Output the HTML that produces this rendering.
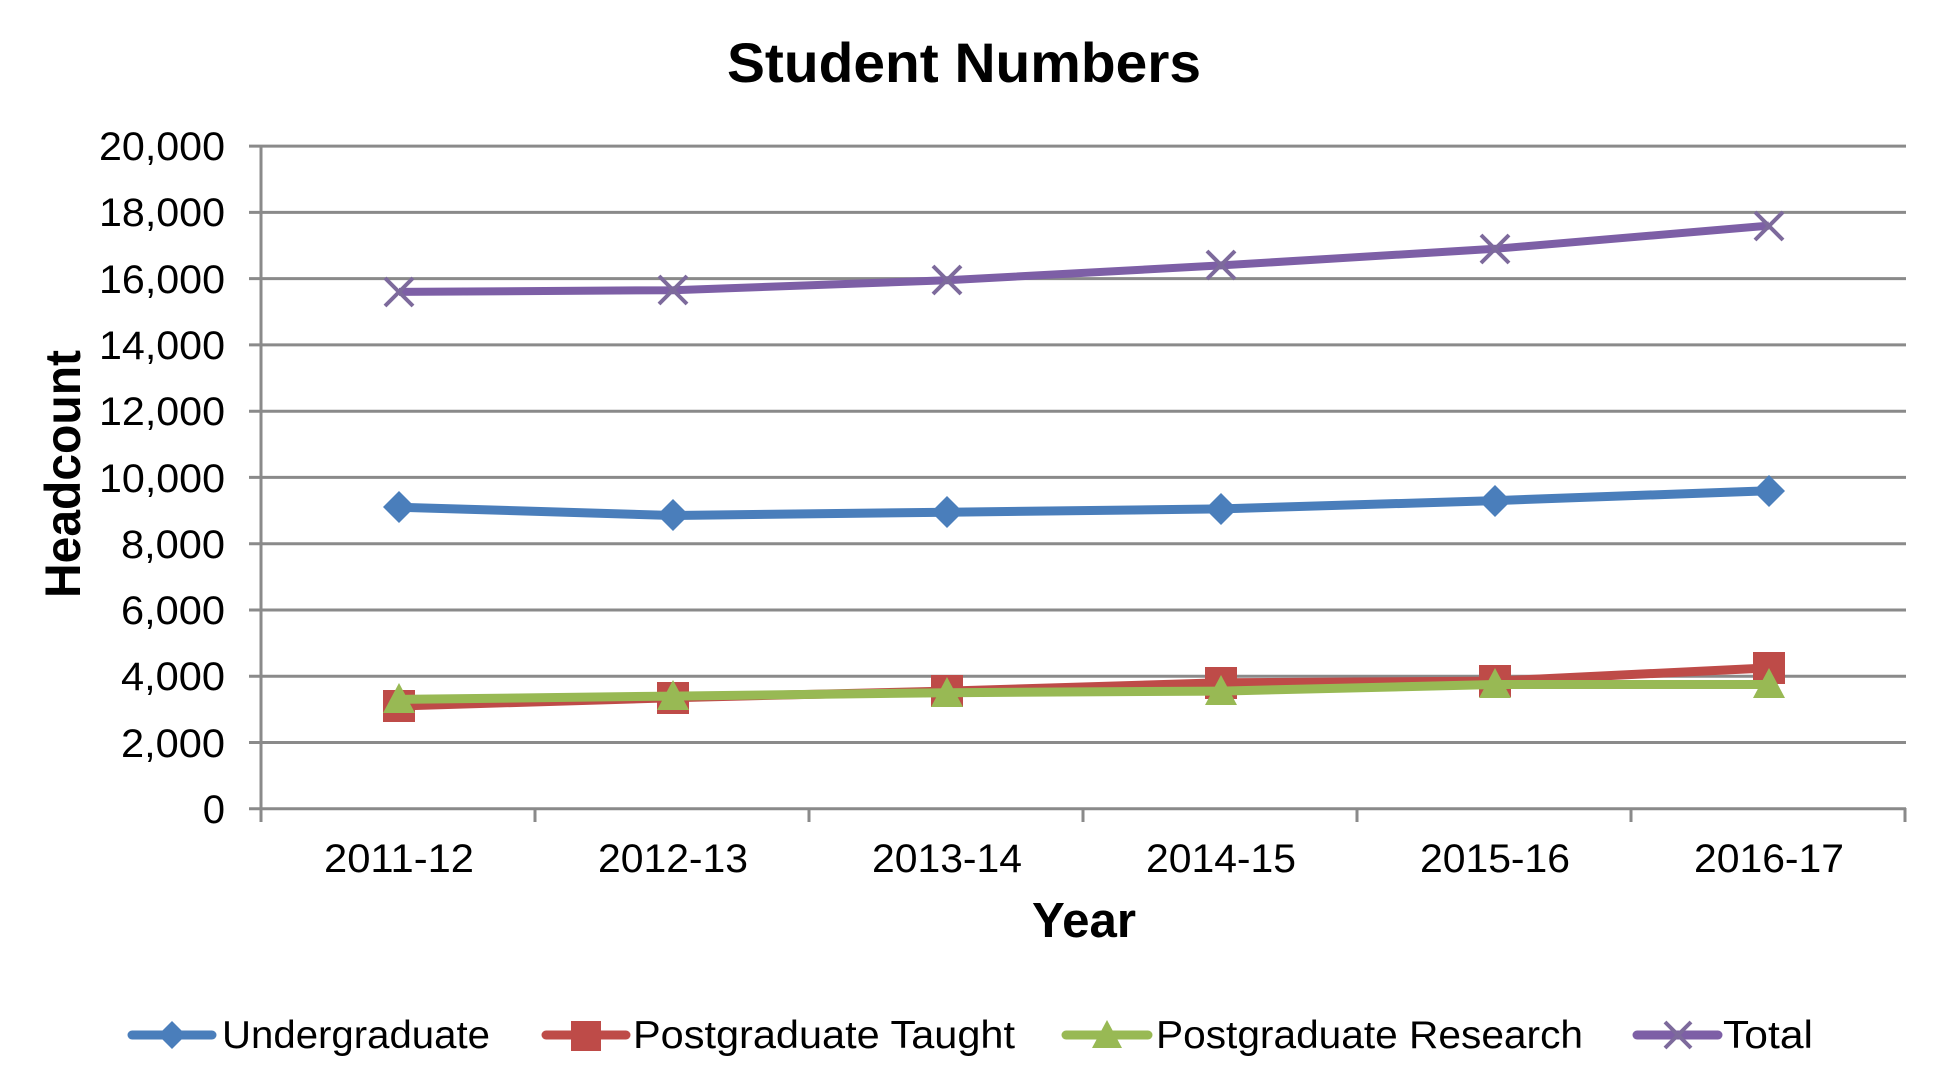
<!DOCTYPE html>
<html><head><meta charset="utf-8"><style>html,body{margin:0;padding:0;background:#fff}svg{display:block}</style></head>
<body>
<svg width="1934" height="1092" viewBox="0 0 1934 1092" xmlns="http://www.w3.org/2000/svg" font-family="Liberation Sans, Arial, sans-serif">
<rect width="1934" height="1092" fill="#fff"/>
<text x="727" y="82" font-size="56" font-weight="bold" textLength="474" lengthAdjust="spacingAndGlyphs">Student Numbers</text>
<g stroke="#8a8a8a" stroke-width="3">
<line x1="249" y1="146.1" x2="1906" y2="146.1"/>
<line x1="249" y1="212.4" x2="1906" y2="212.4"/>
<line x1="249" y1="278.6" x2="1906" y2="278.6"/>
<line x1="249" y1="344.9" x2="1906" y2="344.9"/>
<line x1="249" y1="411.2" x2="1906" y2="411.2"/>
<line x1="249" y1="477.4" x2="1906" y2="477.4"/>
<line x1="249" y1="543.7" x2="1906" y2="543.7"/>
<line x1="249" y1="610.0" x2="1906" y2="610.0"/>
<line x1="249" y1="676.2" x2="1906" y2="676.2"/>
<line x1="249" y1="742.5" x2="1906" y2="742.5"/>
<line x1="249" y1="808.7" x2="1906" y2="808.7"/>
<line x1="261" y1="146" x2="261" y2="822"/>
<line x1="535" y1="808" x2="535" y2="822"/>
<line x1="809" y1="808" x2="809" y2="822"/>
<line x1="1083" y1="808" x2="1083" y2="822"/>
<line x1="1357" y1="808" x2="1357" y2="822"/>
<line x1="1631" y1="808" x2="1631" y2="822"/>
<line x1="1905" y1="808" x2="1905" y2="822"/>
</g>
<g font-size="40" text-anchor="end">
<text x="225" y="160" textLength="126" lengthAdjust="spacingAndGlyphs">20,000</text>
<text x="225" y="226" textLength="126" lengthAdjust="spacingAndGlyphs">18,000</text>
<text x="225" y="293" textLength="126" lengthAdjust="spacingAndGlyphs">16,000</text>
<text x="225" y="359" textLength="126" lengthAdjust="spacingAndGlyphs">14,000</text>
<text x="225" y="425" textLength="126" lengthAdjust="spacingAndGlyphs">12,000</text>
<text x="225" y="492" textLength="126" lengthAdjust="spacingAndGlyphs">10,000</text>
<text x="225" y="558" textLength="104" lengthAdjust="spacingAndGlyphs">8,000</text>
<text x="225" y="624" textLength="104" lengthAdjust="spacingAndGlyphs">6,000</text>
<text x="225" y="690" textLength="104" lengthAdjust="spacingAndGlyphs">4,000</text>
<text x="225" y="757" textLength="104" lengthAdjust="spacingAndGlyphs">2,000</text>
<text x="225" y="823">0</text>
</g>
<g font-size="40" text-anchor="middle">
<text x="399" y="872" textLength="150" lengthAdjust="spacingAndGlyphs">2011-12</text>
<text x="673" y="872" textLength="150" lengthAdjust="spacingAndGlyphs">2012-13</text>
<text x="947" y="872" textLength="150" lengthAdjust="spacingAndGlyphs">2013-14</text>
<text x="1221" y="872" textLength="150" lengthAdjust="spacingAndGlyphs">2014-15</text>
<text x="1495" y="872" textLength="150" lengthAdjust="spacingAndGlyphs">2015-16</text>
<text x="1769" y="872" textLength="150" lengthAdjust="spacingAndGlyphs">2016-17</text>
</g>
<text x="1032" y="937" font-size="49" font-weight="bold" textLength="104" lengthAdjust="spacingAndGlyphs">Year</text>
<text transform="translate(80,598) rotate(-90)" font-size="50" font-weight="bold" textLength="248" lengthAdjust="spacingAndGlyphs">Headcount</text>

<!-- Total -->
<polyline fill="none" stroke="#7d5fa6" stroke-width="8" stroke-linejoin="round" points="399,291.9 673,290.2 947,280.3 1221,265.4 1495,248.8 1769,225.6"/>
<g stroke="#7d6a9c" stroke-width="4">
<path d="M385,278l28,28M413,278l-28,28"/>
<path d="M659,276l28,28M687,276l-28,28"/>
<path d="M933,266l28,28M961,266l-28,28"/>
<path d="M1207,251l28,28M1235,251l-28,28"/>
<path d="M1481,235l28,28M1509,235l-28,28"/>
<path d="M1755,212l28,28M1783,212l-28,28"/>
</g>
<!-- UG -->
<polyline fill="none" stroke="#4a7ebb" stroke-width="9" stroke-linejoin="round" points="399,507.2 673,515.5 947,512.2 1221,508.9 1495,500.6 1769,490.7"/>
<g fill="#4a7ebb">
<path d="M399,491l16,16-16,16-16-16z"/>
<path d="M673,499l16,16-16,16-16-16z"/>
<path d="M947,496l16,16-16,16-16-16z"/>
<path d="M1221,493l16,16-16,16-16-16z"/>
<path d="M1495,485l16,16-16,16-16-16z"/>
<path d="M1769,475l16,16-16,16-16-16z"/>
</g>
<!-- PGT -->
<polyline fill="none" stroke="#be4b48" stroke-width="9" stroke-linejoin="round" points="399,706 673,697.7 947,691.1 1221,682.8 1495,681.1 1769,667.9"/>
<g fill="#be4b48">
<rect x="383" y="690" width="32" height="32"/>
<rect x="657" y="682" width="32" height="32"/>
<rect x="931" y="675" width="32" height="32"/>
<rect x="1205" y="667" width="32" height="32"/>
<rect x="1479" y="665" width="32" height="32"/>
<rect x="1753" y="652" width="32" height="32"/>
</g>
<!-- PGR -->
<polyline fill="none" stroke="#98b954" stroke-width="9" stroke-linejoin="round" points="399,699.4 673,696.1 947,692.7 1221,691.1 1495,684.5 1769,684.5"/>
<g fill="#98b954">
<path d="M399,683l16,30h-32z"/>
<path d="M673,680l16,30h-32z"/>
<path d="M947,677l16,30h-32z"/>
<path d="M1221,675l16,30h-32z"/>
<path d="M1495,668l16,30h-32z"/>
<path d="M1769,668l16,30h-32z"/>
</g>

<!-- Legend -->
<line x1="132" y1="1035" x2="212" y2="1035" stroke="#4a7ebb" stroke-width="9" stroke-linecap="round"/>
<path d="M172,1021l14,14-14,14-14-14z" fill="#4a7ebb"/>
<text x="222" y="1048" font-size="39" textLength="268" lengthAdjust="spacingAndGlyphs">Undergraduate</text>
<line x1="546" y1="1035" x2="626" y2="1035" stroke="#be4b48" stroke-width="9" stroke-linecap="round"/>
<rect x="571" y="1021" width="30" height="30" fill="#be4b48"/>
<text x="633" y="1048" font-size="39" textLength="382" lengthAdjust="spacingAndGlyphs">Postgraduate Taught</text>
<line x1="1066" y1="1035" x2="1148" y2="1035" stroke="#98b954" stroke-width="9" stroke-linecap="round"/>
<path d="M1107,1020l15,28h-30z" fill="#98b954"/>
<text x="1156" y="1048" font-size="39" textLength="427" lengthAdjust="spacingAndGlyphs">Postgraduate Research</text>
<line x1="1637" y1="1035" x2="1718" y2="1035" stroke="#7d5fa6" stroke-width="9" stroke-linecap="round"/>
<path d="M1665,1022l26,26M1691,1022l-26,26" stroke="#7d6a9c" stroke-width="4"/>
<text x="1723" y="1048" font-size="39" textLength="90" lengthAdjust="spacingAndGlyphs">Total</text>
</svg>
</body></html>
